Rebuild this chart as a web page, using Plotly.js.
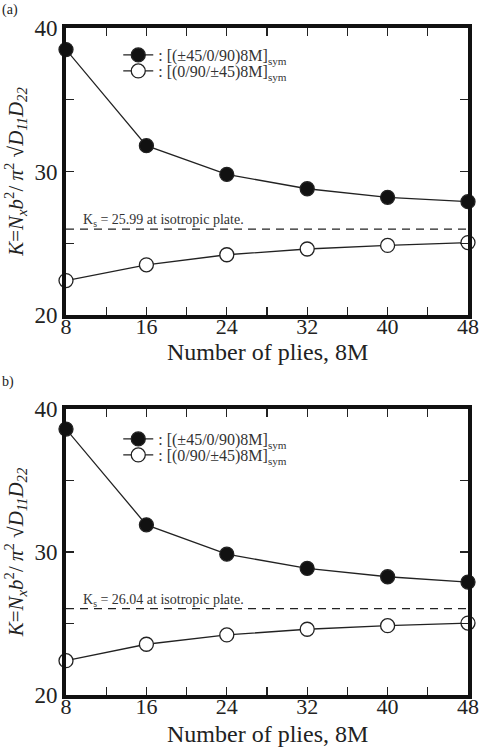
<!DOCTYPE html>
<html><head><meta charset="utf-8">
<script src="https://cdn.plot.ly/plotly-3.0.1.min.js"></script>
<style>html,body{margin:0;padding:0;background:#fff}#c{width:485px;height:749px}</style>
</head><body><div id="c"></div>
<script>
var plies = [8, 16, 24, 32, 40, 48];
var filledA = [38.5, 31.8, 29.8, 28.8, 28.2, 27.9];
var openA = [22.4, 23.5, 24.2, 24.6, 24.85, 25.05];
var ksA = 25.99;
var filledB = [38.6, 31.9, 29.85, 28.85, 28.27, 27.9];
var openB = [22.4, 23.55, 24.2, 24.6, 24.85, 25.03];
var ksB = 26.04;
var nameFilled = ': [(±45/0/90)8M]<sub>sym</sub>';
var nameOpen = ': [(0/90/±45)8M]<sub>sym</sub>';
var panelLabels = ['(a)', 'b)'];
var xTitle = 'Number of plies, 8M';
var yTitle = '<i>K</i>=<i>N<sub>x</sub>b</i><sup>2</sup>/ <i>π</i><sup>2</sup> √<i>D<sub>11</sub>D<sub>22</sub></i>';

var serif = 'Liberation Serif';
var ink = '#222';

function series(y, filled, xa, ya, leg) {
  return {x: plies, y: y, xaxis: xa, yaxis: ya, mode: 'lines+markers', type: 'scatter',
    cliponaxis: false, legend: leg, name: filled ? nameFilled : nameOpen,
    line: {color: '#222', width: 1.3},
    marker: {size: 14, symbol: 'circle', color: filled ? '#111' : '#fff', line: {color: '#222', width: 1.3}}};
}
function dashed(k, xa, ya) {
  return {x: [plies[0], plies[plies.length-1]], y: [k, k], xaxis: xa, yaxis: ya, mode: 'lines',
    showlegend: false, line: {color: '#222', width: 1.3, dash: '8px,6px'}, hoverinfo: 'skip'};
}
var data = [
  series(filledA, true, 'x', 'y', 'legend'), series(openA, false, 'x', 'y', 'legend2'), dashed(ksA, 'x', 'y'),
  series(filledB, true, 'x2', 'y2', 'legend3'), series(openB, false, 'x2', 'y2', 'legend4'), dashed(ksB, 'x2', 'y2')
];

function xax(anchor) {
  return {anchor: anchor, range: [8, 48], dtick: 8, tick0: 8, ticks: 'inside', ticklen: 8, tickwidth: 1.3, tickcolor: '#222',
    minor: {dtick: 4, tick0: 8, ticks: 'inside', ticklen: 8, tickwidth: 1.3, tickcolor: '#222'},
    showline: true, linewidth: 4, linecolor: '#111', mirror: 'allticks', showgrid: false, zeroline: false,
    ticklabelstandoff: -11,
    tickfont: {family: serif, size: 22, color: ink}};
}
function yax(anchor, dom) {
  return {anchor: anchor, domain: dom, range: [20, 40], dtick: 10, tick0: 20, ticks: 'inside', ticklen: 8, tickwidth: 1.3, tickcolor: '#222',
    minor: {dtick: 5, tick0: 20, ticks: 'inside', ticklen: 8, tickwidth: 1.3, tickcolor: '#222'},
    showline: true, linewidth: 4, linecolor: '#111', mirror: 'allticks', showgrid: false, zeroline: false,
    tickfont: {family: serif, size: 23, color: ink},
    title: {text: yTitle, font: {family: serif, size: 21, color: ink}, standoff: 6}};
}
function legendCfg(yPx) {
  return {x: 0.13, y: 1 - yPx/749, xanchor: 'left', yanchor: 'middle', bgcolor: 'rgba(0,0,0,0)', tracegroupgap: 0,
    font: {family: serif, size: 16, color: '#333'}, itemwidth: 30};
}
function ksNote(k, xr, yr) {
  return {xref: xr, yref: yr, x: plies[0] + 1.5, y: k, xanchor: 'left', yanchor: 'bottom', yshift: -2, showarrow: false,
    text: 'K<sub>s</sub> = ' + k.toFixed(2) + ' at isotropic plate.', font: {family: serif, size: 14, color: '#333'}};
}
function xNote(yPx) {
  return {xref: 'paper', yref: 'paper', x: 0.5, y: 1 - yPx/749, xanchor: 'center', yanchor: 'middle', showarrow: false,
    text: xTitle, font: {family: serif, size: 24, color: ink}};
}
var layout = {
  width: 485, height: 749, margin: {l: 66, r: 17, t: 0, b: 0}, paper_bgcolor: '#fff', plot_bgcolor: '#fff',
  showlegend: true,
  xaxis: xax('y'), yaxis: yax('x', [0.5794, 0.9626]),
  xaxis2: xax('y2'), yaxis2: yax('x2', [0.0721, 0.4539]),
  legend: legendCfg(55), legend2: legendCfg(71), legend3: legendCfg(439), legend4: legendCfg(455),
  annotations: [
    ksNote(ksA, 'x', 'y'), ksNote(ksB, 'x2', 'y2'),
    xNote(352), xNote(734),
    {xref: 'paper', yref: 'paper', x: -66/402, y: 1, xanchor: 'left', yanchor: 'top', showarrow: false, text: panelLabels[0], font: {family: serif, size: 14, color: ink}},
    {xref: 'paper', yref: 'paper', x: -66/402, y: 1 - 372/749, xanchor: 'left', yanchor: 'top', showarrow: false, text: panelLabels[1], font: {family: serif, size: 14, color: ink}}
  ]
};
Plotly.newPlot('c', data, layout, {displayModeBar: false, staticPlot: true});
</script></body></html>
